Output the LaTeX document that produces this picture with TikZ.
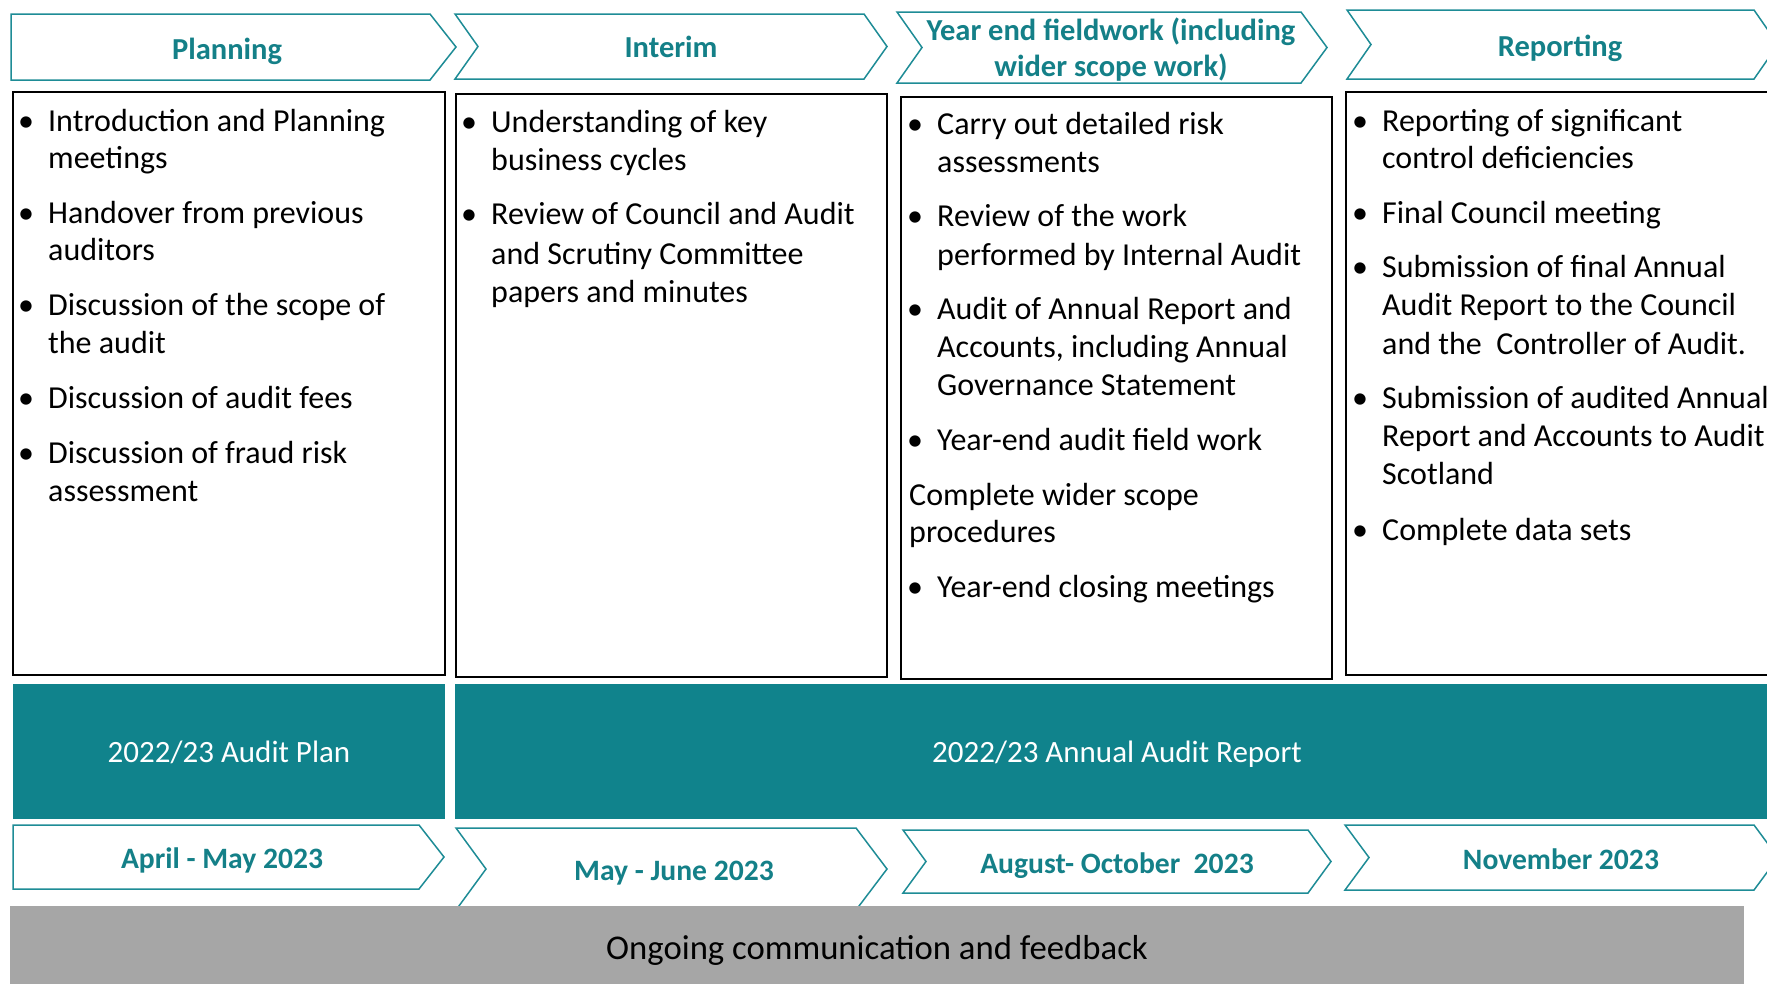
\documentclass[tikz,border=0pt]{standalone}
\usepackage{fontspec}
\setmainfont{Carlito}
\definecolor{auditteal}{RGB}{16,131,140}
\definecolor{headteal}{RGB}{20,128,136}
\definecolor{chevline}{RGB}{30,140,150}
\definecolor{greybar}{RGB}{166,166,166}
\newcommand\bul{\llap{\makebox[30pt][l]{•}}}
\begin{document}
\begin{tikzpicture}[x=1pt,y=-1pt,
  chev/.style={draw=chevline, line width=1.5pt, fill=white},
  head/.style={text=headteal, font=\fontsize{30.5}{36.5}\selectfont\bfseries, inner sep=0, align=center},
  datehead/.style={head, font=\fontsize{29.6}{36}\selectfont\bfseries},
  cbox/.style={draw=black, line width=2pt, fill=white},
  body/.style={font=\fontsize{32}{40}\selectfont, anchor=base west, inner sep=0},
  bartext/.style={text=white, font=\fontsize{31}{36}\selectfont, inner sep=0},
  greytext/.style={text=black, font=\fontsize{34.7}{40}\selectfont, inner sep=0}]
\useasboundingbox (0,0) rectangle (1767,983);
\clip (0,0) rectangle (1767,983);
% top chevrons
\draw[chev] (11,14) -- (430,14) -- (456,47) -- (430,80) -- (11,80) -- cycle;
\draw[chev] (455,14) -- (864,14) -- (887,46.5) -- (864,79) -- (455,79) -- (478,46.5) -- cycle;
\draw[chev] (897,12) -- (1301,12) -- (1327,47.5) -- (1301,83) -- (897,83) -- (922,47.5) -- cycle;
\draw[chev] (1347,10) -- (1754,10) -- (1778,44.5) -- (1754,79) -- (1347,79) -- (1371,44.5) -- cycle;
\node[head] (hPlan) at (227,51) {Planning};
\node[head] (hInt) at (671,47) {Interim};
\node[head] (hYear) at (1111,49.5) {Year end fieldwork (including\\wider scope work)};
\node[head] (hRep) at (1560,48.5) {Reporting};
% content boxes
\draw[cbox] (13,92) rectangle (445,675);
\draw[cbox] (456,94) rectangle (887,677);
\draw[cbox] (901,97) rectangle (1332,679);
\draw[cbox] (1346,92) rectangle (1790,675);
% box 1
\node[body] (a1) at (48,131) {\bul Introduction and Planning};
\node[body] (a2) at (48,168) {meetings};
\node[body] (a3) at (48,223) {\bul Handover from previous};
\node[body] (a4) at (48,260) {auditors};
\node[body] (a5) at (48,315) {\bul Discussion of the scope of};
\node[body] (a6) at (48,353) {the audit};
\node[body] (a7) at (48,408) {\bul Discussion of audit fees};
\node[body] (a8) at (48,463) {\bul Discussion of fraud risk};
\node[body] (a9) at (48,501) {assessment};
% box 2
\node[body] (b1) at (491,132) {\bul Understanding of key};
\node[body] (b2) at (491,170) {business cycles};
\node[body] (b3) at (491,224) {\bul Review of Council and Audit};
\node[body] (b4) at (491,264) {and Scrutiny Committee};
\node[body] (b5) at (491,302) {papers and minutes};
% box 3
\node[body] (c1) at (937,134) {\bul Carry out detailed risk};
\node[body] (c2) at (937,172) {assessments};
\node[body] (c3) at (937,226) {\bul Review of the work};
\node[body] (c4) at (937,265) {performed by Internal Audit};
\node[body] (c5) at (937,319) {\bul Audit of Annual Report and};
\node[body] (c6) at (937,357) {Accounts, including Annual};
\node[body] (c7) at (937,395) {Governance Statement};
\node[body] (c8) at (937,450) {\bul Year-end audit field work};
\node[body] (c9) at (909,505) {Complete wider scope};
\node[body] (c10) at (909,542) {procedures};
\node[body] (c11) at (937,597) {\bul Year-end closing meetings};
% box 4
\node[body] (d1) at (1382,131) {\bul Reporting of significant};
\node[body] (d2) at (1382,168) {control deficiencies};
\node[body] (d3) at (1382,223) {\bul Final Council meeting};
\node[body] (d4) at (1382,277) {\bul Submission of final Annual};
\node[body] (d5) at (1382,315) {Audit Report to the Council};
\node[body] (d6) at (1382,354) {and the\ \ Controller of Audit.};
\node[body] (d7) at (1382,408) {\bul Submission of audited Annual};
\node[body] (d8) at (1382,446) {Report and Accounts to Audit};
\node[body] (d9) at (1382,484) {Scotland};
\node[body] (d10) at (1382,540) {\bul Complete data sets};
% teal bars
\fill[auditteal] (13,684) rectangle (445,819);
\fill[auditteal] (455,684) rectangle (1790,819);
\node[bartext] (plan) at (229,752) {2022/23 Audit Plan};
\node[bartext] (annual) at (1117,754) {2022/23 Annual Audit Report};
% bottom chevrons
\draw[chev] (13,825) -- (419,825) -- (444,857) -- (419,889) -- (13,889) -- cycle;
\draw[chev] (456,828) -- (856,828) -- (887,869) -- (856,910) -- (456,910) -- (486,869) -- cycle;
\draw[chev] (903,830) -- (1308,830) -- (1331,861.5) -- (1308,893) -- (903,893) -- (926,861.5) -- cycle;
\draw[chev] (1345,825) -- (1754,825) -- (1778,857.5) -- (1754,890) -- (1345,890) -- (1369,857.5) -- cycle;
\node[datehead] (t1) at (222,860.5) {April - May 2023};
\node[datehead] (t2) at (674,873.5) {May - June 2023};
\node[datehead] (t3) at (1117,865.5) {August- October\ \ 2023};
\node[datehead] (t4) at (1561,859.5) {November 2023};
% grey bar
\fill[greybar] (10,906) rectangle (1744,990);
\node[greytext] (ongoing) at (877,950.5) {Ongoing communication and feedback};
\end{tikzpicture}
\end{document}
